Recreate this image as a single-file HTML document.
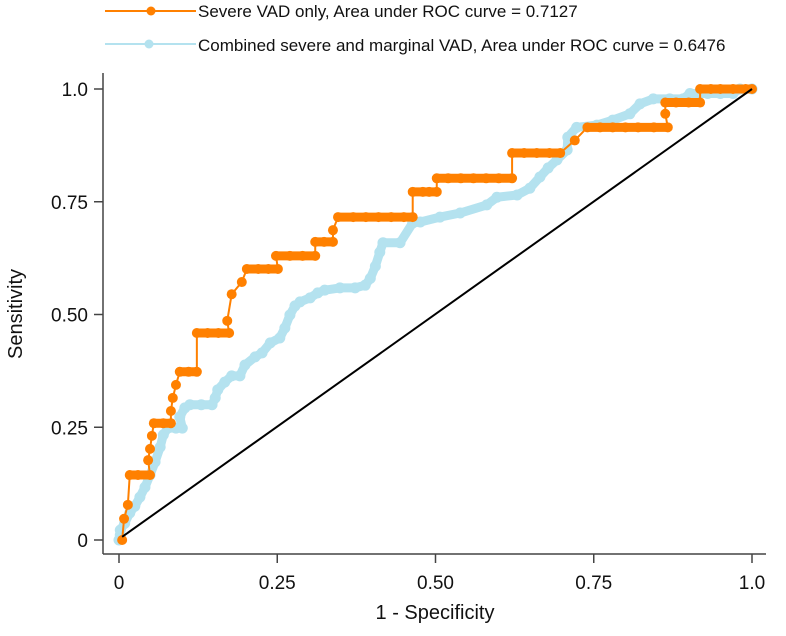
<!DOCTYPE html>
<html><head><meta charset="utf-8"><style>
body{margin:0;background:#fff;}
svg text{font-family:"Liberation Sans",Arial,sans-serif;fill:#111;}
</style></head><body>
<svg id="chart" width="786" height="631" viewBox="0 0 786 631" xmlns="http://www.w3.org/2000/svg">
<g>
 <g>
  <line x1="105" y1="11" x2="196" y2="11" stroke="#ff8000" stroke-width="2"/>
  <circle cx="151" cy="11" r="4.5" fill="#ff8000"/>
  <text x="198" y="17" font-size="17">Severe VAD only, Area under ROC curve = 0.7127</text>
 </g>
 <g>
  <line x1="105" y1="44" x2="196" y2="44" stroke="#b4e2ef" stroke-width="2"/>
  <circle cx="149" cy="44" r="4.5" fill="#b4e2ef"/>
  <text x="198" y="51" font-size="17">Combined severe and marginal VAD, Area under ROC curve = 0.6476</text>
 </g>
</g>
<g id="axes"></g>
<g id="plot"></g>
<text transform="translate(22,314) rotate(-90)" text-anchor="middle" font-size="20">Sensitivity</text>
<text x="435" y="619" text-anchor="middle" font-size="20">1 - Specificity</text>
</svg>
<script>
const xTicks=[0,0.25,0.5,0.75,1.0];
const xTickLabels=["0","0.25","0.50","0.75","1.0"];
const yTicks=[0,0.25,0.5,0.75,1.0];
const yTickLabels=["0","0.25","0.50","0.75","1.0"];
const severeFpr=[0.005,0.008,0.014,0.017,0.03,0.049,0.046,0.049,0.052,0.055,0.07,0.082,0.082,0.085,0.090,0.096,0.11,0.123,0.123,0.14,0.157,0.174,0.171,0.178,0.194,0.202,0.22,0.236,0.251,0.248,0.27,0.29,0.31,0.31,0.324,0.338,0.338,0.346,0.37,0.39,0.41,0.43,0.45,0.464,0.464,0.48,0.49,0.502,0.502,0.52,0.54,0.56,0.58,0.60,0.621,0.621,0.64,0.66,0.68,0.697,0.72,0.74,0.76,0.78,0.80,0.82,0.845,0.867,0.863,0.863,0.88,0.9,0.918,0.918,0.935,0.95,0.97,0.99,1];
const severeTpr=[0,0.047,0.078,0.144,0.144,0.144,0.177,0.202,0.231,0.259,0.259,0.259,0.286,0.315,0.344,0.373,0.373,0.373,0.459,0.459,0.459,0.459,0.486,0.545,0.572,0.601,0.601,0.601,0.601,0.63,0.63,0.63,0.63,0.661,0.661,0.661,0.687,0.716,0.716,0.716,0.716,0.716,0.716,0.716,0.772,0.772,0.772,0.772,0.802,0.802,0.802,0.802,0.802,0.802,0.802,0.858,0.858,0.858,0.858,0.858,0.886,0.915,0.915,0.915,0.915,0.915,0.915,0.915,0.945,0.97,0.97,0.97,0.97,1,1,1,1,1,1];
const combFpr=[0,0.002,0.002,0.009,0.017,0.025,0.033,0.041,0.049,0.057,0.065,0.07,0.077,0.09,0.1,0.096,0.104,0.112,0.13,0.147,0.152,0.156,0.167,0.178,0.191,0.199,0.215,0.226,0.239,0.254,0.262,0.27,0.278,0.286,0.302,0.314,0.325,0.349,0.373,0.389,0.397,0.405,0.412,0.417,0.444,0.464,0.476,0.507,0.539,0.581,0.597,0.629,0.649,0.665,0.678,0.692,0.708,0.709,0.723,0.755,0.78,0.807,0.823,0.844,0.87,0.891,0.902,0.93,0.95,0.97,0.981,1];
const combTpr=[0,0.011,0.022,0.037,0.06,0.075,0.095,0.117,0.144,0.173,0.206,0.233,0.248,0.248,0.248,0.273,0.293,0.30,0.30,0.30,0.315,0.333,0.35,0.364,0.364,0.388,0.406,0.415,0.437,0.448,0.47,0.499,0.519,0.528,0.537,0.548,0.554,0.559,0.559,0.565,0.58,0.607,0.638,0.659,0.659,0.703,0.705,0.716,0.725,0.743,0.76,0.765,0.78,0.805,0.825,0.843,0.865,0.893,0.915,0.92,0.931,0.945,0.967,0.978,0.978,0.978,0.99,0.99,0.99,0.99,1,1];
const NS="http://www.w3.org/2000/svg";
const sx=v=>119+v*633, sy=v=>540-v*451;
function mk(tag,attrs,parent){const e=document.createElementNS(NS,tag);for(const k in attrs)e.setAttribute(k,attrs[k]);parent.appendChild(e);return e;}
const axes=document.getElementById('axes'), plot=document.getElementById('plot');
let yAxis=mk('line',{x1:103,y1:73,x2:103,y2:554,stroke:'#444','stroke-width':1.5},axes);


let xAxis=mk('line',{x1:103,y1:554,x2:766,y2:554,stroke:'#444','stroke-width':1.5},axes);


yTicks.forEach((v,i)=>{
 let t=mk('line',{x1:94,x2:103,y1:sy(v),y2:sy(v),stroke:'#444','stroke-width':1.5},axes);
 
 
 let l=mk('text',{x:88,y:sy(v)+7,'text-anchor':'end','font-size':19},axes);
 
 
 l.textContent=yTickLabels[i];
});
xTicks.forEach((v,i)=>{
 let t=mk('line',{x1:sx(v),x2:sx(v),y1:554,y2:563,stroke:'#444','stroke-width':1.5},axes);
 
 
 let l=mk('text',{x:sx(v),y:589,'text-anchor':'middle','font-size':19},axes);
 
 
 l.textContent=xTickLabels[i];
});
function series(fx,fy,color,name,thick){
 const g=mk('g',{},plot);
 
 
 const pts=fx.map((x,i)=>sx(x)+','+sy(fy[i])).join(' ');
 mk('polyline',{points:pts,fill:'none',stroke:color,'stroke-width':thick?9:2,'stroke-linejoin':'round','stroke-linecap':'round'},g);
 if(!thick){
  for(let i=1;i<fx.length;i++){
   if(fy[i]===fy[i-1]){
    const s=mk('line',{x1:sx(fx[i-1]),y1:sy(fy[i]),x2:sx(fx[i]),y2:sy(fy[i]),stroke:color,'stroke-width':9,'stroke-linecap':'round'},g);
    
    
   }
  }
 }
 fx.forEach((x,i)=>{
  const c=mk('circle',{cx:sx(x),cy:sy(fy[i]),r:thick?5.5:5,fill:color},g);
  
  
 });
}
series(combFpr,combTpr,'#b4e2ef','combined-vad-curve',true);
series(severeFpr,severeTpr,'#ff8000','severe-vad-curve',false);
let ref=mk('line',{x1:sx(0.005),y1:sy(0.007),x2:sx(1),y2:sy(1),stroke:'#000','stroke-width':2},plot);


</script>
</body></html>
